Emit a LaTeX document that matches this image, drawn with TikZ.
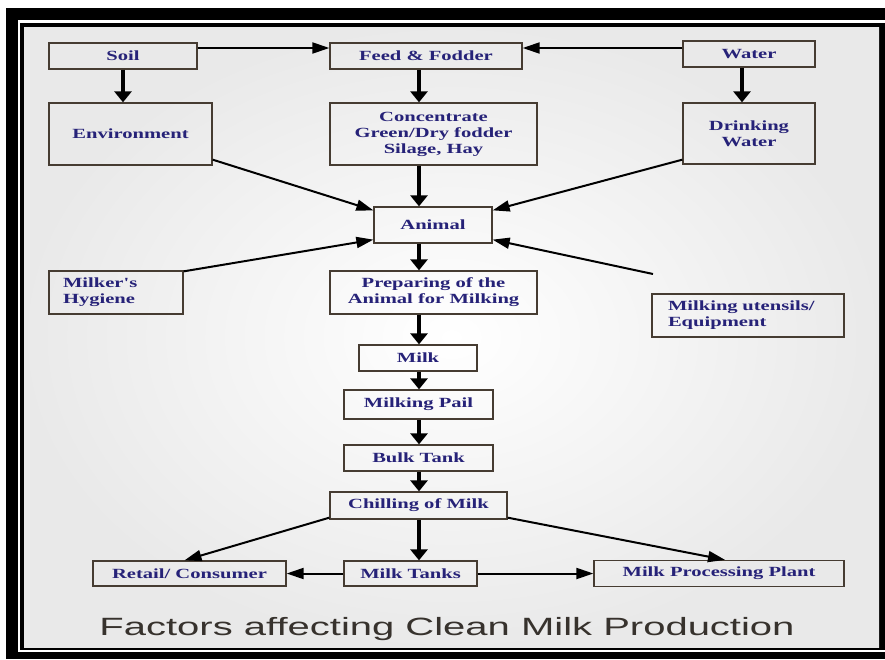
\documentclass[tikz,border=0pt]{standalone}
\usepackage{fontspec}
\usepackage{xcolor}
\usetikzlibrary{arrows.meta, positioning, calc}
\newfontfamily\boxfont[FakeStretch=1.47]{Liberation Serif}
\newfontfamily\titlefont[FakeStretch=1.6]{Liberation Sans}
\definecolor{boxtext}{RGB}{38,34,120}
\definecolor{boxline}{RGB}{70,60,50}
\definecolor{titletext}{RGB}{55,50,45}
\tikzset{
	block/.style={rectangle, draw=boxline, line width=1.3pt, text=boxtext, font=\boxfont\bfseries\fontsize{14}{16}\selectfont, align=center, inner sep=0pt},
	line/.style={draw=black, line width=2pt, -{Triangle[length=17pt, width=11pt]}},
	flow/.style={draw=black, line width=4.5pt, -{Triangle[length=11pt, width=17pt]}}
}

\begin{document}
\begin{tikzpicture}[x=1pt, y=-1pt]
		
		\useasboundingbox (0,0) rectangle (885,659);
		
		% Frame and background
		\fill[black] (6,8) rectangle (885,659);
		\draw[white, line width=2.5pt] (885,21.5) -- (19,21.5) -- (19,651) -- (885,651);
		\shade[inner color=white, outer color=gray!17] (24,27) rectangle (879,647);
		
		% Top row - sources
		\node[block, minimum width=148pt, minimum height=26pt] (soil) at (123,56) {Soil};
		\node[block, minimum width=192pt, minimum height=26pt, right of=soil, node distance=303pt] (feed) {Feed \& Fodder};
		\node[block, minimum width=132pt, minimum height=26pt, right of=feed, node distance=323pt, yshift=2pt] (water) {Water};
		
		% Second row
		\node[block, minimum width=163pt, minimum height=62pt, below of=soil, node distance=78pt, xshift=7.5pt] (env) {Environment};
		\node[block, minimum width=207pt, minimum height=62pt, below of=feed, node distance=78pt, xshift=7.5pt] (conc) {Concentrate\\Green/Dry fodder\\Silage, Hay};
		\node[block, minimum width=132pt, minimum height=61pt, below of=water, node distance=79.5pt] (drink) {Drinking\\Water};
		
		% Animal and side factors
		\node[block, minimum width=118pt, minimum height=36pt] (animal) at (433,225) {Animal};
		\node[block, align=left, text width=106pt, inner xsep=14pt, minimum height=43pt] (hyg) at (116,292.5) {Milker's\\Hygiene};
		\node[block, align=left, text width=160pt, inner xsep=16pt, minimum height=43pt] (uten) at (748,315.5) {Milking utensils/\\Equipment};
		\coordinate (utenend) at (653,274);
		
		% Milk chain
		\node[block, minimum width=207pt, minimum height=43pt, below of=animal, node distance=67.5pt, xshift=0.5pt] (prep) {Preparing of the\\Animal for Milking};
		\node[block, minimum width=118pt, minimum height=26pt, below of=prep, node distance=65.5pt, xshift=-15.5pt] (milk) {Milk};
		\node[block, minimum width=149pt, minimum height=29pt, below of=milk, node distance=46.5pt, xshift=0.5pt] (pail) {Milking Pail};
		\node[block, minimum width=149pt, minimum height=26pt, below of=pail, node distance=53.5pt] (bulk) {Bulk Tank};
		\node[block, minimum width=177pt, minimum height=27pt, below of=bulk, node distance=47.5pt] (chill) {Chilling of Milk};
		
		% Bottom row - outlets
		\node[block, minimum width=133pt, minimum height=25pt, below of=chill, node distance=68pt, xshift=-8pt] (tanks) {Milk Tanks};
		\node[block, minimum width=193pt, minimum height=25pt, left of=tanks, node distance=221pt] (retail) {Retail/ Consumer};
		\node[block, minimum width=250pt, minimum height=26pt, right of=tanks, node distance=308.5pt] (plant) {Milk Processing Plant};
		
		% Title
		\node[font=\titlefont\fontsize{25}{28}\selectfont, text=titletext] (title) at (447,629) {Factors affecting Clean Milk Production};
		
		% Main column
		\coordinate (col) at (419,0);
		
		% Arrows for top row
		\draw[line] ([yshift=8pt]soil.east) -- ([yshift=8pt]feed.west);
		\draw[line] ([yshift=6pt]water.west) -- ([yshift=8pt]feed.east);
		\draw[flow] (soil.south) -- (env.north -| soil);
		\draw[flow] (feed.south -| col) -- (conc.north -| col);
		\draw[flow] ([xshift=-7pt]water.south) -- ([xshift=-7pt]drink.north);
		
		% Arrows into animal
		\draw[line] ([yshift=6pt]env.south east) -- ([yshift=-4pt]animal.north west);
		\draw[line] ([yshift=5pt]drink.south west) -- ([yshift=-4pt]animal.north east);
		\draw[flow] (conc.south -| col) -- (animal.north -| col);
		\draw[line] ([yshift=-1pt]hyg.north east) -- ([yshift=4pt]animal.south west);
		\draw[line] (utenend) -- ([yshift=4pt]animal.south east);
		
		% Arrows for milk chain
		\draw[flow] (animal.south -| col) -- (prep.north -| col);
		\draw[flow] (prep.south -| col) -- (milk.north -| col);
		\draw[flow] (milk.south -| col) -- (pail.north -| col);
		\draw[flow] (pail.south -| col) -- (bulk.north -| col);
		\draw[flow] (bulk.south -| col) -- (chill.north -| col);
		\draw[flow] (chill.south -| col) -- (tanks.north -| col);
		
		% Arrows for bottom row
		\draw[line] ([yshift=2pt]chill.south west) -- ([xshift=-5pt]retail.north);
		\draw[line] ([yshift=2pt]chill.south east) -- ([xshift=6pt]plant.north);
		\draw[line] (tanks.west) -- (retail.east);
		\draw[line] (tanks.east) -- (plant.west);
		
	\end{tikzpicture}
\end{document}
